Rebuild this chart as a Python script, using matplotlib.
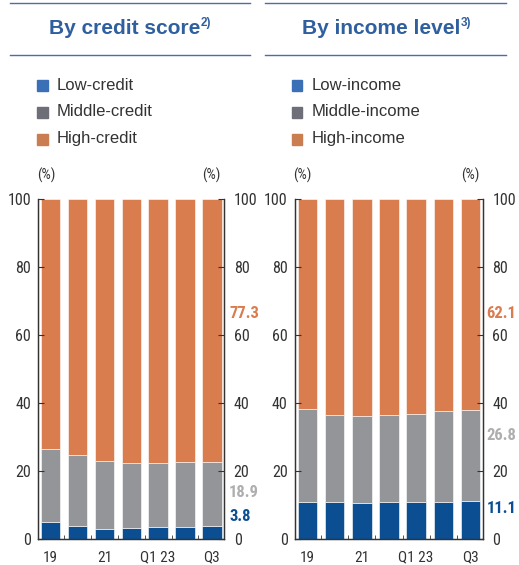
import matplotlib.pyplot as plt
import numpy as np
from matplotlib.lines import Line2D

# quarterly shares (%), bottom to top: low / middle / high
periods = ['19', '20', '21', '22', 'Q1 23', 'Q2', 'Q3']
tick_labels = ['19', '', '21', '', 'Q1 23', '', 'Q3']

credit_low = [5.1, 3.8, 3.0, 3.3, 3.5, 3.5, 3.8]
credit_mid = [21.5, 20.8, 20.0, 19.0, 18.8, 19.1, 18.9]
credit_high = [100 - a - b for a, b in zip(credit_low, credit_mid)]

income_low = [11.0, 10.8, 10.7, 10.9, 11.0, 10.9, 11.1]
income_mid = [27.2, 25.8, 25.6, 25.5, 25.8, 26.9, 26.8]
income_high = [100 - a - b for a, b in zip(income_low, income_mid)]

BLUE = '#0b4f92'
GRAY = '#939598'
ORANGE = '#d97c4e'
LEG_BLUE = '#3b6fb6'
LEG_GRAY = '#6d6e78'
LEG_ORANGE = '#c97d50'
TITLE_BLUE = '#2f5f9f'
LBL_GRAY = '#aeaeb0'
TXT = '#333333'

COND = ['Roboto Condensed', 'Liberation Sans', 'DejaVu Sans']
plt.rcParams['font.family'] = ['Liberation Sans', 'DejaVu Sans']

fig = plt.figure(figsize=(5.19, 5.65), dpi=100)

panels = [
    dict(rect=[0.0732, 0.046, 0.3584, 0.6013], title='By credit score', note='2)',
         tx=49 / 519, line=(0.019, 0.482), leg_x=0.072,
         names=['Low-credit', 'Middle-credit', 'High-credit'],
         data=(credit_low, credit_mid, credit_high),
         lbl_y=(6.6, 13.7, 66.5), lbl_dx=0.028),
    dict(rect=[0.5678, 0.046, 0.3622, 0.6013], title='By income level', note='3)',
         tx=302 / 519, line=(0.511, 0.975), leg_x=0.562,
         names=['Low-income', 'Middle-income', 'High-income'],
         data=(income_low, income_mid, income_high),
         lbl_y=(9.0, 30.6, 66.5), lbl_dx=0.021),
]

for p in panels:
    ax = fig.add_axes(p['rect'])
    low, mid, high = p['data']
    x = np.arange(len(periods))
    ax.bar(x, low, width=0.72, color=BLUE, edgecolor='white', linewidth=0.4)
    ax.bar(x, mid, width=0.72, bottom=low, color=GRAY, edgecolor='white', linewidth=0.4)
    ax.bar(x, high, width=0.72, bottom=np.add(low, mid), color=ORANGE,
           edgecolor='white', linewidth=0.4)

    ax.set_xlim(-0.47, 6.45)
    ax.set_ylim(0, 100)
    ax.set_yticks(range(0, 101, 20))
    ax.set_xticks(x)
    ax.set_xticklabels(tick_labels)
    ax.set_xticks(x[:-1] + 0.5, minor=True)
    ax.tick_params(axis='x', which='major', length=0, pad=8.5, labelsize=11, colors=TXT)
    ax.tick_params(axis='x', which='minor', length=3, direction='in', color=TXT)
    ax.tick_params(axis='y', direction='in', length=4, labelsize=11.5, colors=TXT, pad=5)

    # right-hand scale repeats the left one
    ax2 = ax.twinx()
    ax2.set_ylim(0, 100)
    ax2.set_yticks(range(0, 101, 20))
    ax2.tick_params(axis='y', direction='in', length=4, labelsize=11.5, colors=TXT, pad=7)

    for a in (ax, ax2):
        for lab in a.get_xticklabels() + a.get_yticklabels():
            lab.set_family(COND)
        a.spines['top'].set_visible(False)
        for s in ('left', 'right', 'bottom'):
            a.spines[s].set_color(TXT)
            a.spines[s].set_linewidth(0.9)

    ax.text(-0.007, 1.07, '(%)', transform=ax.transAxes, fontsize=10.5, color=TXT,
            family=COND, ha='left', va='center')
    ax.text(0.885, 1.07, '(%)', transform=ax.transAxes, fontsize=10.5, color=TXT,
            family=COND, ha='left', va='center')

    # latest values beside the right axis
    last = [low[-1], mid[-1], high[-1]]
    for v, y, c in zip(last, p['lbl_y'], (BLUE, LBL_GRAY, ORANGE)):
        ax.text(1 + p['lbl_dx'], y, f'{v:.1f}', transform=ax.get_yaxis_transform(),
                fontsize=12, fontweight='bold', color=c, ha='left', va='center',
                family=COND, clip_on=False, zorder=5)

    # header with rules above and below
    x0, x1 = p['line']
    fig.add_artist(Line2D([x0, x1], [0.995, 0.995], color='#4a6fa5', lw=1.0))
    fig.add_artist(Line2D([x0, x1], [0.903, 0.903], color='#4a6fa5', lw=1.0))
    t = fig.text(p['tx'], 0.950, p['title'], fontsize=15, fontweight='bold',
                 color=TITLE_BLUE, ha='left', va='center')
    fig.canvas.draw()
    bb = t.get_window_extent().transformed(fig.transFigure.inverted())
    fig.text(bb.x1 + 0.001, 0.959, p['note'], fontsize=8.5, fontweight='bold',
             color=TITLE_BLUE, ha='left', va='center')

    # legend
    for i, (name, c) in enumerate(zip(p['names'], (LEG_BLUE, LEG_GRAY, LEG_ORANGE))):
        yy = 1 - (85 + 27 * i) / 565
        fig.patches.append(plt.Rectangle((p['leg_x'], yy - 0.0105), 0.0205, 0.0195,
                                         transform=fig.transFigure, color=c))
        fig.text(p['leg_x'] + 0.038, yy, name, fontsize=12, color=TXT,
                 ha='left', va='center')

fig.savefig('out.png', dpi=100)
